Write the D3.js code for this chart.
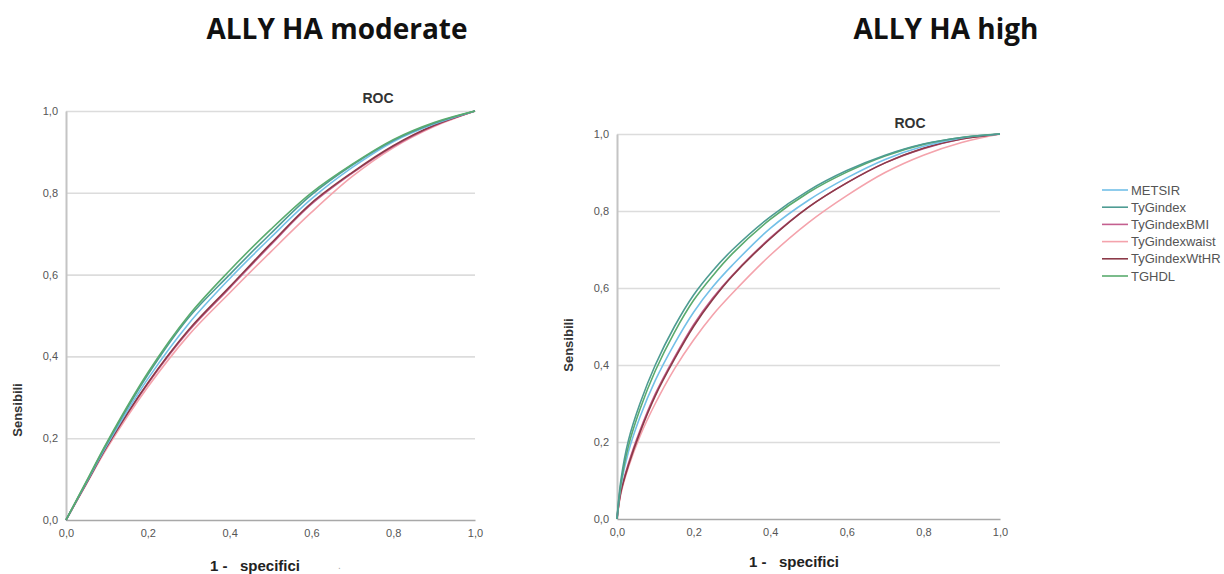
<!DOCTYPE html>
<html>
<head>
<meta charset="utf-8">
<script src="https://cdn.jsdelivr.net/npm/d3@7"></script>
<style>
  body { margin: 0; background: #fff; }
  svg { display: block; }
</style>
</head>
<body>
<svg id="chart" width="1224" height="574"></svg>
<script>
// series names and colours (legend order)
const seriesNames = ['METSIR', 'TyGindex', 'TyGindexBMI', 'TyGindexwaist', 'TyGindexWtHR', 'TGHDL'];
const seriesColors = ['#74c0e8', '#4e9c93', '#c45f8f', '#f4a3ac', '#8c3a48', '#5aab6e'];

const tickValues = [0, 0.2, 0.4, 0.6, 0.8, 1.0];

// ALLY HA moderate: 1 - specificity grid and sensitivity per series
const fprModerate = [0, 0.05, 0.1, 0.2, 0.3, 0.4, 0.5, 0.6, 0.7, 0.8, 0.9, 1];
const modMETSIR = [0, 0.092, 0.183, 0.345, 0.48, 0.59, 0.69, 0.785, 0.862, 0.925, 0.968, 1];
const modTyGindex = [0, 0.093, 0.187, 0.355, 0.495, 0.6, 0.7, 0.795, 0.868, 0.928, 0.97, 1];
const modBMI = [0, 0.09, 0.18, 0.333, 0.462, 0.567, 0.672, 0.772, 0.848, 0.913, 0.964, 1];
const modWaist = [0, 0.088, 0.175, 0.325, 0.452, 0.555, 0.655, 0.752, 0.84, 0.91, 0.962, 1];
const modWtHR = [0, 0.09, 0.18, 0.335, 0.465, 0.57, 0.675, 0.775, 0.85, 0.915, 0.965, 1];
const modTGHDL = [0, 0.095, 0.19, 0.36, 0.5, 0.61, 0.71, 0.8, 0.87, 0.93, 0.972, 1];

// ALLY HA high
const fprHigh = [0, 0.01, 0.03, 0.06, 0.1, 0.15, 0.2, 0.25, 0.3, 0.4, 0.5, 0.6, 0.7, 0.8, 0.9, 1];
const highMETSIR = [0, 0.085, 0.175, 0.265, 0.36, 0.455, 0.537, 0.603, 0.658, 0.755, 0.828, 0.886, 0.934, 0.968, 0.99, 1];
const highTyGindex = [0, 0.1, 0.205, 0.3, 0.4, 0.5, 0.582, 0.645, 0.698, 0.785, 0.853, 0.905, 0.945, 0.974, 0.991, 1];
const highBMI = [0, 0.072, 0.145, 0.23, 0.325, 0.42, 0.505, 0.574, 0.632, 0.73, 0.81, 0.873, 0.925, 0.962, 0.987, 1];
const highWaist = [0, 0.065, 0.135, 0.215, 0.3, 0.39, 0.465, 0.53, 0.585, 0.685, 0.77, 0.84, 0.9, 0.945, 0.978, 1];
const highWtHR = [0, 0.07, 0.14, 0.225, 0.32, 0.415, 0.5, 0.57, 0.63, 0.728, 0.81, 0.873, 0.925, 0.963, 0.987, 1];
const highTGHDL = [0, 0.09, 0.19, 0.285, 0.385, 0.485, 0.568, 0.632, 0.688, 0.778, 0.848, 0.901, 0.943, 0.973, 0.991, 1];

const panels = [
  {
    title: 'ALLY HA moderate', titleX: 337,
    left: 66, right: 475, top: 111, bottom: 520,
    rocX: 378, rocY: 103, ylabY: 410, xlabX: 255, xlabY: 571, dot: true,
    fpr: fprModerate,
    series: [modMETSIR, modTyGindex, modBMI, modWaist, modWtHR, modTGHDL],
    drawOrder: [3, 2, 4, 0, 1, 5]
  },
  {
    title: 'ALLY HA high', titleX: 946,
    left: 617, right: 1000, top: 134, bottom: 519,
    rocX: 910, rocY: 128, ylabY: 345, xlabX: 794, xlabY: 567, dot: false,
    fpr: fprHigh,
    series: [highMETSIR, highTyGindex, highBMI, highWaist, highWtHR, highTGHDL],
    drawOrder: [3, 2, 4, 0, 5, 1]
  }
];

const svg = d3.select('#chart');
const fmt = d => d3.format('.1f')(d).replace('.', ',');

panels.forEach(p => {
  const x = d3.scaleLinear().domain([0, 1]).range([p.left, p.right]);
  const y = d3.scaleLinear().domain([0, 1]).range([p.bottom, p.top]);
  const g = svg.append('g');

  // gridlines
  const grid = g.append('g')
    .attr('transform', `translate(${p.left},0)`)
    .call(d3.axisLeft(y).tickValues(tickValues.slice(1)).tickSize(-(p.right - p.left)).tickFormat(''));
  grid.select('.domain').remove();
  grid.selectAll('line').attr('stroke', '#dcdcdc').attr('stroke-width', 1.6);

  // y axis
  const ya = g.append('g')
    .attr('transform', `translate(${p.left},0)`)
    .call(d3.axisLeft(y).tickValues(tickValues).tickSize(0).tickPadding(8).tickFormat(fmt));
  ya.select('.domain').attr('stroke', '#c4c4c4').attr('stroke-width', 2);
  ya.selectAll('text').attr('fill', '#555').style('font-family', 'Liberation Sans, Arial, sans-serif').style('font-size', '11px');

  // x axis
  const xa = g.append('g')
    .attr('transform', `translate(0,${p.bottom})`)
    .call(d3.axisBottom(x).tickValues(tickValues).tickSize(0).tickPadding(9).tickFormat(fmt));
  xa.select('.domain').attr('stroke', '#a8a8a8').attr('stroke-width', 1.6);
  xa.selectAll('text').attr('fill', '#555').style('font-family', 'Liberation Sans, Arial, sans-serif').style('font-size', '11px');

  // curves
  const line = d3.line()
    .x((d, i) => x(p.fpr[i]))
    .y(d => y(d))
    .curve(d3.curveCatmullRom.alpha(0.5));

  p.drawOrder.forEach(k => {
    g.append('path')
      .datum(p.series[k])
      .attr('fill', 'none')
      .attr('stroke', seriesColors[k])
      .attr('stroke-width', 1.6)
      .attr('d', line);
  });

  // titles and labels
  svg.append('text')
    .attr('x', p.titleX).attr('y', 39)
    .attr('text-anchor', 'middle')
    .style('font-family', 'Open Sans, sans-serif').style('font-weight', 'bold').style('font-size', '28px')
    .attr('fill', '#111')
    .text(p.title);

  svg.append('text')
    .attr('x', p.rocX).attr('y', p.rocY)
    .attr('text-anchor', 'middle')
    .style('font-family', 'Liberation Sans, Arial, sans-serif').style('font-weight', 'bold').style('font-size', '14px')
    .attr('fill', '#333')
    .text('ROC');

  svg.append('text')
    .attr('transform', `translate(${p.left - 44},${p.ylabY}) rotate(-90)`)
    .attr('text-anchor', 'middle')
    .style('font-family', 'Liberation Sans, Arial, sans-serif').style('font-weight', 'bold').style('font-size', '13px')
    .attr('fill', '#333')
    .text('Sensibili');

  svg.append('text')
    .attr('x', p.xlabX).attr('y', p.xlabY)
    .attr('text-anchor', 'middle')
    .attr('xml:space', 'preserve')
    .style('white-space', 'pre')
    .style('font-family', 'Liberation Sans, Arial, sans-serif').style('font-weight', 'bold').style('font-size', '15px')
    .attr('fill', '#222')
    .text('1 -   specifici');

  if (p.dot) {
    svg.append('text')
      .attr('x', 338).attr('y', 569)
      .style('font-family', 'Liberation Sans, Arial, sans-serif').style('font-size', '10px')
      .attr('fill', '#aaa')
      .text('.');
  }
});

// legend
const legend = svg.append('g').attr('transform', 'translate(1102,190)');
seriesNames.forEach((name, i) => {
  const row = legend.append('g').attr('transform', `translate(0,${i * 17.2})`);
  row.append('line')
    .attr('x1', 0).attr('x2', 26).attr('y1', 0).attr('y2', 0)
    .attr('stroke', seriesColors[i]).attr('stroke-width', 1.6);
  row.append('text')
    .attr('x', 29).attr('y', 4.5)
    .style('font-family', 'Liberation Sans, Arial, sans-serif').style('font-size', '13px')
    .attr('fill', '#555')
    .text(name);
});
</script>
</body>
</html>
